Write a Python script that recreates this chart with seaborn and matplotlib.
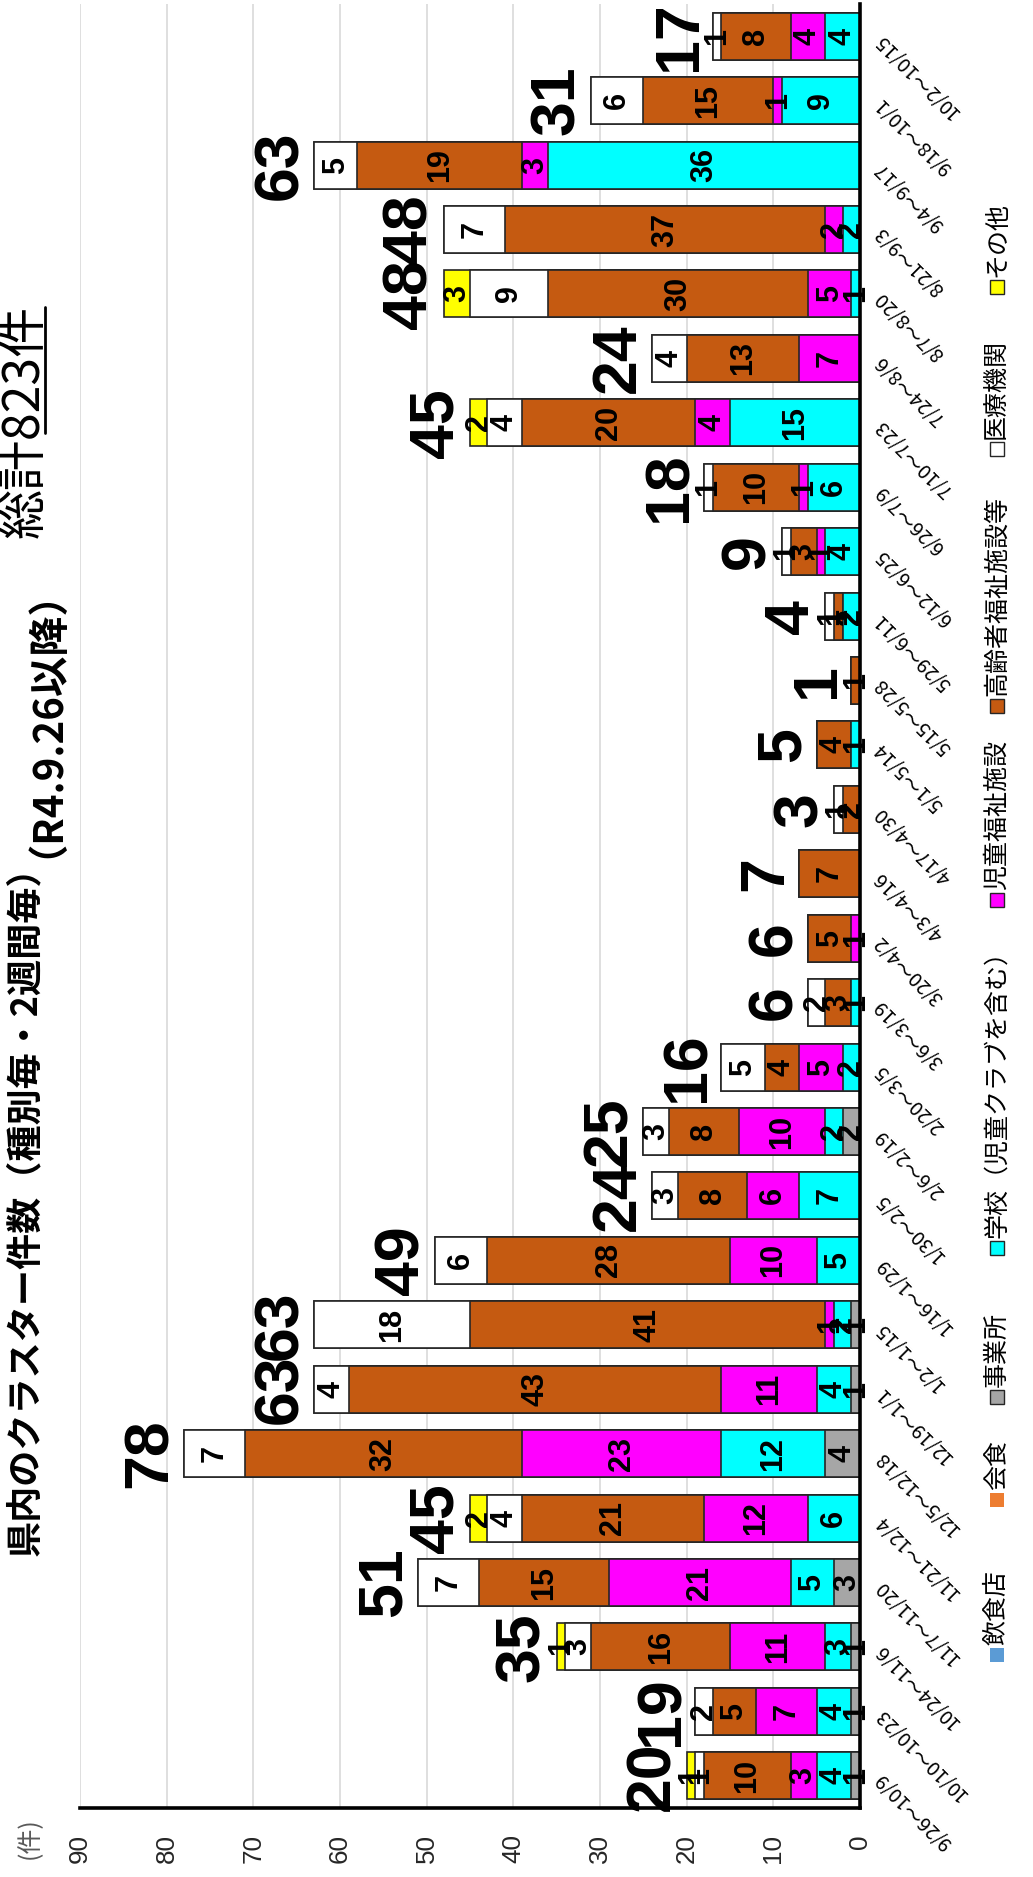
import matplotlib
matplotlib.use("Agg")
import matplotlib.pyplot as plt
from matplotlib import font_manager
from matplotlib.patches import Rectangle
from matplotlib.lines import Line2D
import seaborn as sns
import pandas as pd

# 2-week periods (R4.9.26 onward)
periods = ["9/26～10/9", "10/10～10/23", "10/24～11/6", "11/7～11/20", "11/21～12/4",
           "12/5～12/18", "12/19～1/1", "1/2～1/15", "1/16～1/29", "1/30～2/5",
           "2/6～2/19", "2/20～3/5", "3/6～3/19", "3/20～4/2", "4/3～4/16",
           "4/17～4/30", "5/1～5/14", "5/15～5/28", "5/29～6/11", "6/12～6/25",
           "6/26～7/9", "7/10～7/23", "7/24～8/6", "8/7～8/20", "8/21～9/3",
           "9/4～9/17", "9/18～10/1", "10/2～10/15"]

restaurant = [0] * 28
dining = [0] * 28
office = [1, 1, 1, 3, 0, 4, 1, 1, 0, 0, 2, 0, 0, 0, 0, 0, 0, 0, 0, 0, 0, 0, 0, 0, 0, 0, 0, 0]
school = [4, 4, 3, 5, 6, 12, 4, 2, 5, 7, 2, 2, 1, 0, 0, 0, 1, 0, 2, 4, 6, 15, 0, 1, 2, 36, 9, 4]
child_welfare = [3, 7, 11, 21, 12, 23, 11, 1, 10, 6, 10, 5, 0, 1, 0, 0, 0, 0, 0, 1, 1, 4, 7, 5, 2, 3, 1, 4]
elderly = [10, 5, 16, 15, 21, 32, 43, 41, 28, 8, 8, 4, 3, 5, 7, 2, 4, 1, 1, 3, 10, 20, 13, 30, 37, 19, 15, 8]
medical = [1, 2, 3, 7, 4, 7, 4, 18, 6, 3, 3, 5, 2, 0, 0, 1, 0, 0, 1, 1, 1, 4, 4, 9, 7, 5, 6, 1]
other = [1, 0, 1, 0, 2, 0, 0, 0, 0, 0, 0, 0, 0, 0, 0, 0, 0, 0, 0, 0, 0, 2, 0, 3, 0, 0, 0, 0]

series = ["飲食店", "会食", "事業所", "学校（児童クラブを含む）", "児童福祉施設",
          "高齢者福祉施設等", "医療機関", "その他"]
colors = ["#5B9BD5", "#ED7D31", "#A6A6A6", "#00FFFF", "#FF00FF", "#C55A11", "#FFFFFF", "#FFFF00"]

df = pd.DataFrame({"period": periods, "飲食店": restaurant, "会食": dining, "事業所": office,
                   "学校（児童クラブを含む）": school, "児童福祉施設": child_welfare,
                   "高齢者福祉施設等": elderly, "医療機関": medical, "その他": other})
cum = df[series].cumsum(axis=1)
cum["period"] = periods
totals = df[series].sum(axis=1)

sns.set_theme(style="white")
plt.rcParams['font.family'] = ['Noto Sans CJK JP', 'DejaVu Sans']
plt.rcParams['text.color'] = 'black'
plt.rcParams['xtick.color'] = 'black'
plt.rcParams['ytick.color'] = 'black'

names = {f.name for f in font_manager.fontManager.ttflist}
if 'Liberation Sans Narrow' in names:
    num_font, k = 'Liberation Sans Narrow', 1.0
else:
    num_font, k = 'Liberation Sans', 0.85

W, H = 1033, 1877
fig = plt.figure(figsize=(W / 100, H / 100), dpi=100)
ax = fig.add_axes([80 / W, 69 / H, 780 / W, 1804 / H])

# stacked bars: draw cumulative totals from the top series down
for s, c in reversed(list(zip(series, colors))):
    if df[s].sum() == 0:
        continue
    sns.barplot(data=cum, x=s, y="period", order=periods, orient="h", color=c,
                saturation=1, width=0.73, edgecolor="#262626", linewidth=1.2,
                errorbar=None, ax=ax, zorder=2)

n = len(periods)
ax.set_ylim(-0.5, n - 0.5)
ax.set_xlim(90, 0)
ax.set_xlabel("")
ax.set_ylabel("")

ax.set_xticks(range(0, 91, 10))
ax.set_xticklabels([str(v) for v in range(0, 91, 10)], rotation=90,
                   fontsize=22 * k, fontfamily=num_font, color="#262626")
ax.tick_params(axis="x", length=0, pad=19)
ax.grid(axis="x", color="#D9D9D9", lw=1.2)
ax.set_axisbelow(True)

ax.yaxis.tick_right()
ax.set_yticks(range(n))
ax.set_yticklabels(periods, rotation=135, rotation_mode="anchor", ha="right",
                   va="center", fontsize=14, color="black")
ax.tick_params(axis="y", length=0, pad=13)

for side in ["left", "top"]:
    ax.spines[side].set_visible(False)
for side in ["bottom", "right"]:
    ax.spines[side].set_color("black")
    ax.spines[side].set_linewidth(2.6)
    ax.spines[side].set_zorder(6)

# segment values
for s in series:
    for i, v in enumerate(df[s]):
        if v > 0:
            ax.text(cum[s][i] - v / 2, i, str(v), rotation=90, ha="center", va="center",
                    fontsize=26 * k, fontweight="bold", fontfamily=num_font,
                    color="black", zorder=7)

# totals
for i, t in enumerate(totals):
    ax.annotate(str(t), xy=(t, i), xytext=(-3, 0), textcoords="offset points",
                rotation=90, ha="right", va="center", fontsize=53 * k,
                fontweight="bold", fontfamily=num_font, color="black")

# title (rotated)
fig.text(26 / W, 1 - 1556 / H, "県内のクラスター件数（種別毎・2週間毎）", rotation=90,
         ha="center", va="bottom", fontsize=26, fontweight="bold")
fig.text(26 / W, 1 - 858 / H, "（R4.9.26以降）", rotation=90,
         ha="center", va="bottom", fontsize=29, fontweight="bold")
fig.text(25 / W, 1 - 305 / H, "総計823件", rotation=90, ha="center", va="top", fontsize=36)
fig.add_artist(Line2D([45 / W, 45 / W], [1 - 307 / H, 1 - 433 / H],
                      transform=fig.transFigure, color="black", lw=2))

fig.text(30 / W, 1 - 1838 / H, "(件)", rotation=90, ha="center", va="center",
         fontsize=18, color="#595959")

# legend (rotated, drawn by hand)
legend_y = [1655, 1500, 1397, 1248, 900, 706, 449, 287]
for name, col, yc in zip(series, colors, legend_y):
    edge = "none" if name in ("飲食店", "会食") else "#262626"
    fig.add_artist(Rectangle(((997 - 7) / W, 1 - (yc + 7) / H), 14 / W, 14 / H,
                             transform=fig.transFigure, facecolor=col, edgecolor=edge, lw=1))
    fig.text(997 / W, 1 - (yc - 10) / H, name, rotation=90, ha="center", va="bottom",
             fontsize=18)

fig.savefig("out.png", dpi=100)
